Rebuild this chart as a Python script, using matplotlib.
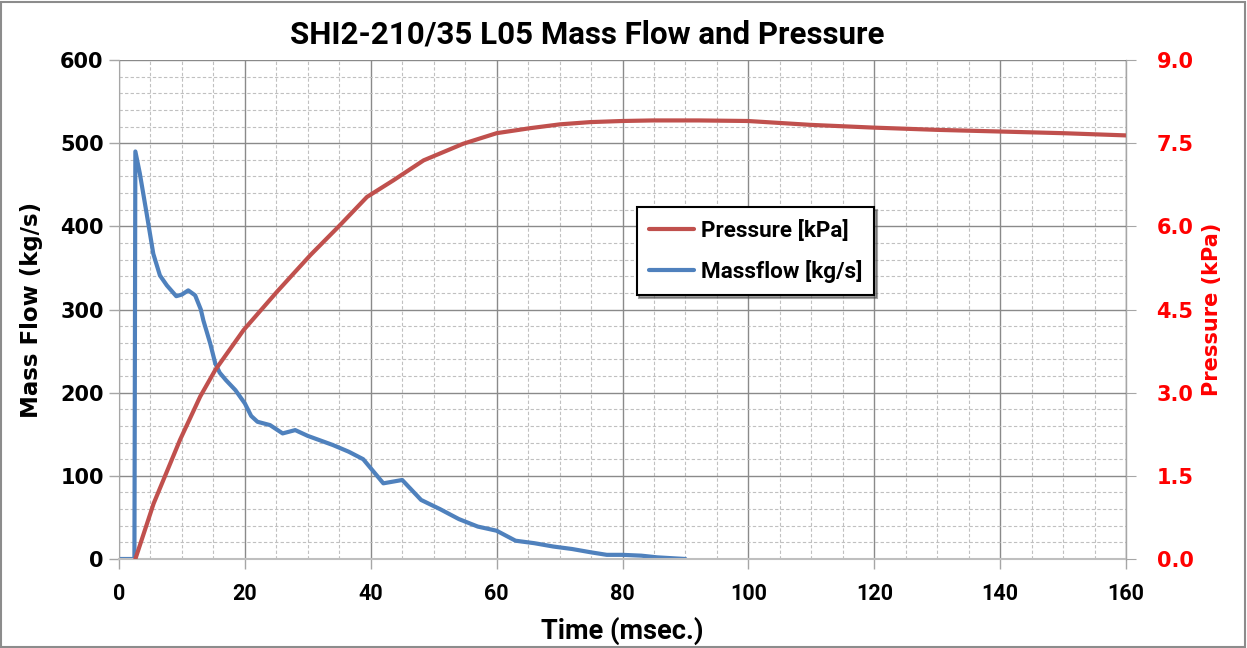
import matplotlib
matplotlib.use("Agg")
import matplotlib.pyplot as plt
from matplotlib.ticker import MultipleLocator, FormatStrFormatter
from matplotlib.patches import Rectangle

# ---- data ----
t_mf = [0, 2.45, 2.6, 3.3, 4.4, 5.45, 6.5, 7.6, 9.1, 10.0, 11.0, 12.1, 13.0, 13.4,
        14.5, 15.3, 16.0, 17.0, 18.5, 20.0, 21.0, 22.0, 24.0, 26.0, 28.0, 30.0,
        34.0, 36.5, 38.8, 42.0, 45.0, 48.0, 51.0, 54.0, 57.0, 60.0, 63.0, 66.0,
        69.0, 72.0, 75.0, 77.5, 80.0, 83.0, 85.5, 90.0]
massflow = [0, 0, 490, 464, 415, 367, 341, 329, 316, 318, 323, 317, 300, 287,
            259, 235, 224, 215, 203, 187, 172, 165, 161, 151, 155, 148,
            137, 129, 120, 91, 95, 71, 60, 48, 39, 34, 22, 19,
            15, 12, 8, 5, 5, 4, 2, 0]

t_p = [2.6, 5.5, 9.7, 12.9, 15.3, 19.8, 25.1, 30.4, 35.1, 39.4, 43.6, 48.4, 54.7,
       60.0, 65.3, 70.1, 74.9, 80.0, 84.8, 92.1, 99.9, 109.9, 120.0, 130.0,
       140.0, 150.0, 160.0]
pressure = [0.0, 1.0, 2.15, 2.93, 3.41, 4.13, 4.82, 5.48, 6.02, 6.53, 6.83, 7.19, 7.49,
            7.68, 7.77, 7.84, 7.88, 7.90, 7.91, 7.91, 7.90, 7.83, 7.78, 7.74,
            7.71, 7.68, 7.64]

x_ticks = [0, 20, 40, 60, 80, 100, 120, 140, 160]
mf_ticks = [0, 100, 200, 300, 400, 500, 600]
p_ticks = [0.0, 1.5, 3.0, 4.5, 6.0, 7.5, 9.0]

title = "SHI2-210/35 L05 Mass Flow and Pressure"

RED = "#C0504D"
BLUE = "#4F81BD"
NARROW = ["Roboto", "DejaVu Sans"]
STRETCH = "condensed"

fig = plt.figure(figsize=(12.47, 6.48), dpi=100)
ax = fig.add_axes([119/1247, 89/648, 1007/1247, 499/648])
ax2 = ax.twinx()

ax.set_xlim(0, 160)
ax.set_ylim(0, 600)
ax2.set_ylim(0, 9)

ax.set_xticks(x_ticks)
ax.set_yticks(mf_ticks)
ax2.set_yticks(p_ticks)
ax2.yaxis.set_major_formatter(FormatStrFormatter("%.1f"))
ax.xaxis.set_minor_locator(MultipleLocator(5))
ax.yaxis.set_minor_locator(MultipleLocator(20))

ax.set_axisbelow(True)
ax.grid(which="major", color="#8a8a8a", lw=1.0, ls="-")
ax.grid(which="minor", color="#c0c0c0", lw=0.8, ls=(0, (3, 2)))

ax.spines["top"].set_visible(False)
ax2.spines["top"].set_visible(False)
ax.spines["left"].set_color("#a6a6a6")
ax.spines["bottom"].set_color("#bfbfbf")
ax.spines["bottom"].set_linewidth(1.5)
ax2.spines["right"].set_color("#a6a6a6")
ax2.spines["left"].set_visible(False)
ax2.spines["bottom"].set_visible(False)

ax.tick_params(which="minor", length=0)
ax.tick_params(axis="both", which="major", length=7, color="#a6a6a6", width=1)
ax.tick_params(axis="y", labelsize=15, pad=4)
ax.tick_params(axis="x", pad=10)
ax2.tick_params(axis="y", length=7, color="#a6a6a6", labelsize=15, labelcolor="red", pad=15)

for lab in ax.get_yticklabels():
    lab.set_fontweight("bold")
    lab.set_family("DejaVu Sans")
for lab in ax2.get_yticklabels():
    lab.set_fontweight("bold")
    lab.set_family("DejaVu Sans")
for lab in ax.get_xticklabels():
    lab.set_fontweight("bold")
    lab.set_family(NARROW)
    lab.set_fontstretch(STRETCH)
    lab.set_fontsize(15.5)

ln_p, = ax2.plot(t_p, pressure, color=RED, lw=3.0, label="Pressure [kPa]", solid_capstyle="round")
ln_m, = ax.plot(t_mf, massflow, color=BLUE, lw=3.0, label="Massflow [kg/s]", solid_capstyle="round")

ax.set_ylabel("Mass Flow (kg/s)", fontsize=16.5, fontweight="bold", family="DejaVu Sans", labelpad=12)
ax2.set_ylabel("Pressure (kPa)", fontsize=15, fontweight="bold", family="DejaVu Sans", color="red", labelpad=6)
ax.set_xlabel("Time (msec.)", fontsize=19.5, fontweight="bold", family=NARROW,
              fontstretch=STRETCH, labelpad=9)

fig.text(587/1247, 1 - 34/648, title, ha="center", va="center", fontsize=22.5,
         fontweight="bold", family=NARROW, fontstretch=STRETCH)

leg = ax2.legend([ln_p, ln_m], ["Pressure [kPa]", "Massflow [kg/s]"],
                 loc="upper left", bbox_to_anchor=(0.514, 0.705),
                 frameon=True, fancybox=False, shadow=True, edgecolor="black",
                 prop={"family": NARROW, "weight": "bold", "size": 16.2, "stretch": STRETCH},
                 handlelength=2.0, handletextpad=0.3, labelspacing=0.8,
                 borderpad=0.55, borderaxespad=0)
leg.get_frame().set_linewidth(1.5)

fig.patches.append(Rectangle((0.001, 0.002), 0.997, 0.995, transform=fig.transFigure,
                             fill=False, edgecolor="#8c8c8c", lw=1.5))

fig.savefig("out.png", dpi=100)
